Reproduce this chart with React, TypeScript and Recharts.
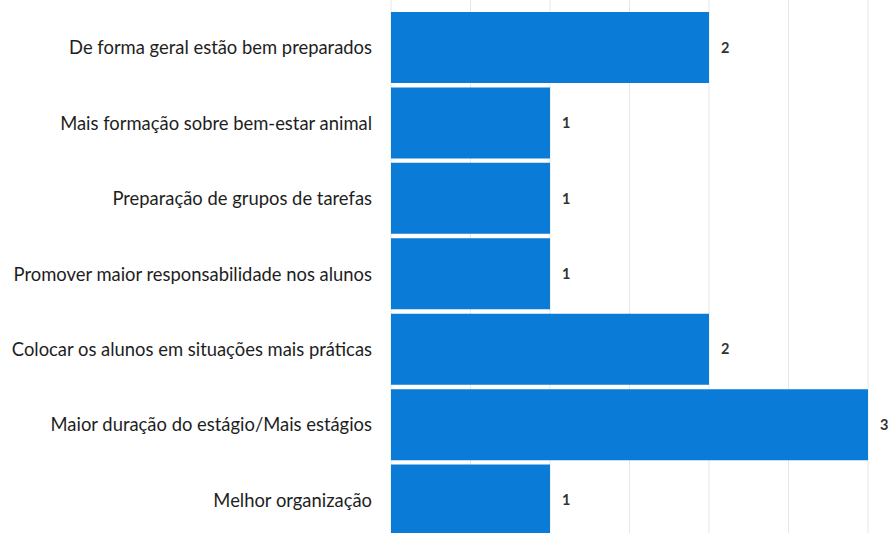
import React from "react";
import { BarChart, Bar, XAxis, YAxis, CartesianGrid, LabelList } from "recharts";

const categories = [
  "De forma geral estão bem preparados",
  "Mais formação sobre bem-estar animal",
  "Preparação de grupos de tarefas",
  "Promover maior responsabilidade nos alunos",
  "Colocar os alunos em situações mais práticas",
  "Maior duração do estágio/Mais estágios",
  "Melhor organização",
];
const values = [2, 1, 1, 1, 2, 3, 1];
const xTicks = [0, 0.5, 1, 1.5, 2, 2.5, 3];

const data = categories.map((name, i) => ({ name, value: values[i] }));

const FONT = "Lato, 'Open Sans', sans-serif";

export default function App() {
  return (
    <div style={{ position: "fixed", top: 0, left: 0, width: 891, height: 541, background: "#fff" }}>
      <BarChart
        width={891}
        height={541}
        data={data}
        layout="vertical"
        margin={{ top: 10, right: 23, bottom: 3, left: 0 }}
      >
        <CartesianGrid horizontal={false} stroke="#e6e6e6" strokeWidth={1} y={0} height={541} />
        <XAxis type="number" domain={[0, 3]} ticks={xTicks} hide />
        <YAxis
          type="category"
          dataKey="name"
          width={391}
          axisLine={false}
          tickLine={false}
          tickSize={0}
          tickMargin={19}
          tick={{ fill: "#1e1e1e", fontSize: 18.4, fontFamily: FONT }}
          interval={0}
        />
        <Bar dataKey="value" fill="#0a7bd6" barSize={71} isAnimationActive={false}>
          <LabelList
            dataKey="value"
            position="right"
            offset={12}
            style={{ fill: "#333", fontSize: 14.5, fontWeight: 700, fontFamily: FONT }}
          />
        </Bar>
      </BarChart>
    </div>
  );
}
